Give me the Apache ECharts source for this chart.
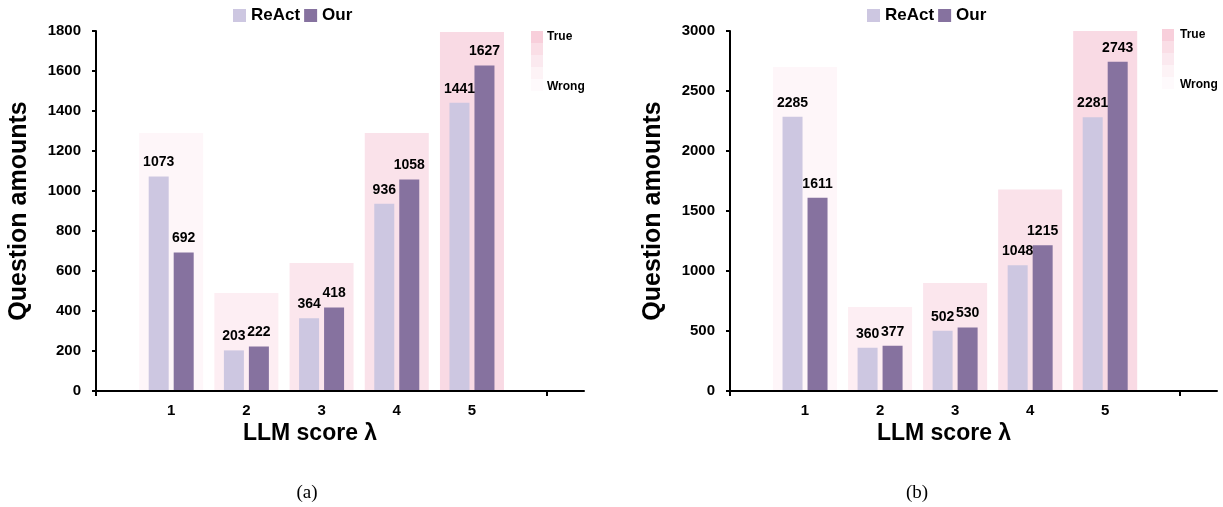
<!DOCTYPE html>
<html>
<head>
<meta charset="utf-8">
<script src="https://cdn.jsdelivr.net/npm/echarts@6/dist/echarts.min.js"></script>
<style>
html,body{margin:0;padding:0;background:#fff;}
#chart{width:1223px;height:507px;}
</style>
</head>
<body>
<div id="chart"></div>
<script>
// ---- data ----
const categories = [1, 2, 3, 4, 5];
const seriesNames = ['ReAct', 'Our'];
// (a)
const reactA = [1073, 203, 364, 936, 1441];
const ourA = [692, 222, 418, 1058, 1627];
const bgA = [1290, 490, 640, 1290, 1795];
// (b)
const reactB = [2285, 360, 502, 1048, 2281];
const ourB = [1611, 377, 530, 1215, 2743];
const bgB = [2700, 700, 900, 1680, 3000];
// y axis scales
const yMaxA = 1800, yIntA = 200;
const yMaxB = 3000, yIntB = 500;
// background shading per score (Wrong -> True)
const bgColors = ['#fef6f9', '#fdeef3', '#fbe6ed', '#fae2ea', '#f9dae4'];
// key blocks (True at top -> Wrong at bottom)
const keyColors = ['#f8cfdb', '#fadee6', '#fbe9ef', '#fdf3f6', '#fefafc'];
const keyLabels = ['True', 'Wrong'];
const captions = ['(a)', '(b)'];
const xName = 'LLM score λ';
const yName = 'Question amounts';

const colReact = '#cdc7e1';
const colOur = '#86729f';
const FONT = '"Liberation Sans", Arial, sans-serif';

const X_MAX = 6.49;
const pair = (xs, ys) => xs.map((x, i) => [x, ys[i]]);

function xAxes(gridIndex) {
  return [
    {
      type: 'value', gridIndex, min: 0, max: X_MAX, interval: 1, z: 10,
      axisLine: { show: true, onZero: false, lineStyle: { color: '#000', width: 2 } },
      axisTick: { show: true, length: 5, lineStyle: { color: '#000', width: 2 }, customValues: [0, 6] },
      axisLabel: { show: true, customValues: categories, margin: 12, color: '#000', fontWeight: 'bold', fontSize: 15, fontFamily: FONT },
      splitLine: { show: false }
    },
    { type: 'value', gridIndex, min: 0, max: X_MAX, show: false, splitLine: { show: false } }
  ];
}
function yAxis(gridIndex, max, interval) {
  return {
    type: 'value', gridIndex, min: 0, max, interval, z: 10,
    name: yName, nameLocation: 'middle', nameGap: 64,
    nameTextStyle: { color: '#000', fontWeight: 'bold', fontSize: 25, fontFamily: FONT },
    axisLine: { show: true, lineStyle: { color: '#000', width: 2 } },
    axisTick: { show: true, length: 4, lineStyle: { color: '#000', width: 2 } },
    axisLabel: { margin: 15, color: '#000', fontWeight: 'bold', fontSize: 15, fontFamily: FONT, formatter: v => String(v) },
    splitLine: { show: false }
  };
}
const labelCfg = {
  show: true, position: 'top', distance: 7, color: '#000', fontWeight: 'bold', fontSize: 14, fontFamily: FONT,
  formatter: p => String(p.value[1])
};
function seriesFor(xBase, yIdx, react, our, bg) {
  return [
    {
      type: 'bar', name: 'bg' + yIdx, xAxisIndex: xBase + 1, yAxisIndex: yIdx, barWidth: 64, z: 1,
      silent: true,
      data: categories.map((c, i) => ({ value: [c, bg[i]], itemStyle: { color: bgColors[i] } }))
    },
    {
      type: 'bar', name: seriesNames[0], xAxisIndex: xBase, yAxisIndex: yIdx, barWidth: 20, barGap: '25%', z: 3,
      itemStyle: { color: colReact }, label: labelCfg, data: pair(categories, react)
    },
    {
      type: 'bar', name: seriesNames[1], xAxisIndex: xBase, yAxisIndex: yIdx, barWidth: 20, barGap: '25%', z: 3,
      itemStyle: { color: colOur }, label: labelCfg, data: pair(categories, our)
    }
  ];
}
function keyGraphics(x, y, tx) {
  const g = keyColors.map((c, i) => ({
    type: 'rect', left: x, top: y + i * 12, shape: { width: 12, height: 12 }, style: { fill: c }, silent: true
  }));
  g.push({ type: 'text', left: tx, top: y, style: { text: keyLabels[0], fill: '#000', font: 'bold 12px ' + FONT } });
  g.push({ type: 'text', left: tx, top: y + 50, style: { text: keyLabels[1], fill: '#000', font: 'bold 12px ' + FONT } });
  return g;
}
function legendAt(left) {
  return {
    data: seriesNames, left, top: 7, padding: 0, itemWidth: 13, itemHeight: 13, itemGap: 4, icon: 'rect',
    textStyle: { color: '#000', fontWeight: 'bold', fontSize: 17, fontFamily: FONT }
  };
}

const chart = echarts.init(document.getElementById('chart'), null, { renderer: 'canvas' });
chart.setOption({
  animation: false,
  backgroundColor: '#fff',
  legend: [legendAt(233), legendAt(867)],
  grid: [
    { left: 96, top: 31, width: 488, height: 360 },
    { left: 730, top: 31, width: 487, height: 360 }
  ],
  xAxis: [...xAxes(0), ...xAxes(1)],
  yAxis: [yAxis(0, yMaxA, yIntA), yAxis(1, yMaxB, yIntB)],
  series: [...seriesFor(0, 0, reactA, ourA, bgA), ...seriesFor(2, 1, reactB, ourB, bgB)],
  graphic: [
    ...keyGraphics(531, 31, 547),
    ...keyGraphics(1162, 29, 1180),
    { type: 'text', x: 310, y: 434, style: { text: xName, fill: '#000', font: 'bold 23px ' + FONT, align: 'center', verticalAlign: 'middle' } },
    { type: 'text', x: 944, y: 434, style: { text: xName, fill: '#000', font: 'bold 23px ' + FONT, align: 'center', verticalAlign: 'middle' } },
    { type: 'text', x: 307, y: 493, style: { text: captions[0], fill: '#000', font: '19px "Liberation Serif", "Times New Roman", serif', align: 'center', verticalAlign: 'middle' } },
    { type: 'text', x: 917, y: 493, style: { text: captions[1], fill: '#000', font: '19px "Liberation Serif", "Times New Roman", serif', align: 'center', verticalAlign: 'middle' } }
  ]
});
</script>
</body>
</html>
